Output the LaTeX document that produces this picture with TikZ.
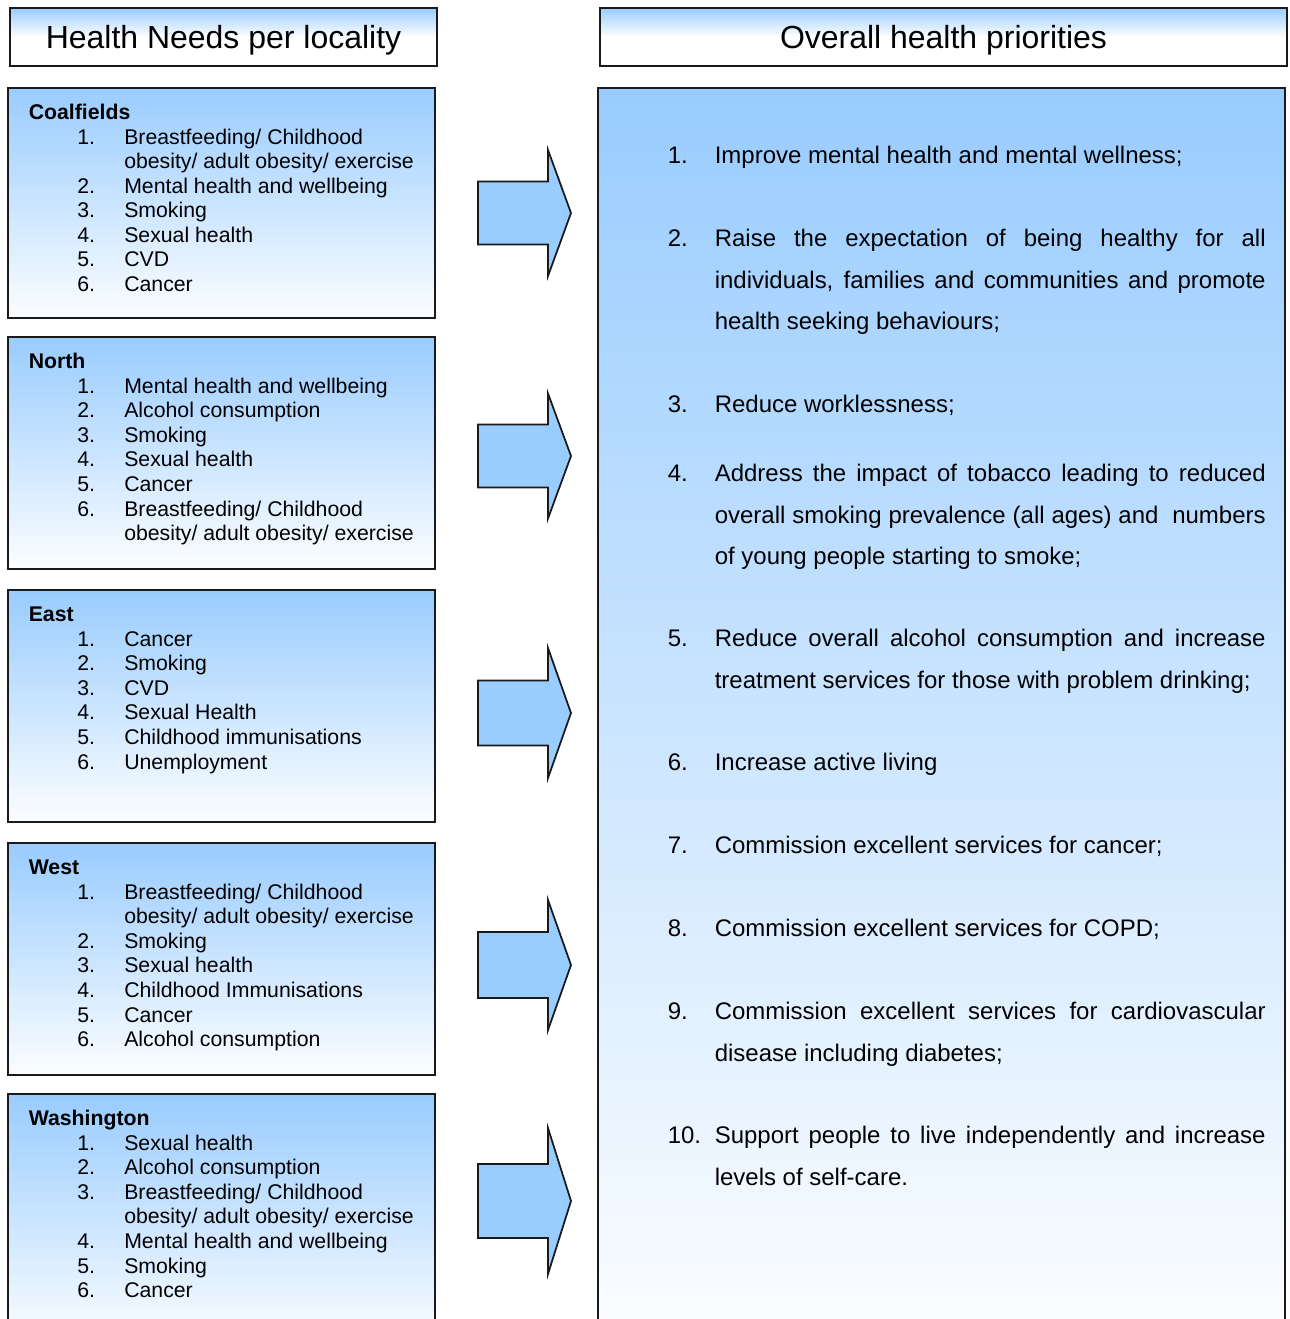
\documentclass[tikz,border=0pt]{standalone}
\usepackage{fontspec}
\setmainfont{Liberation Sans}
\definecolor{cblue}{HTML}{99CCFF}
\definecolor{cline}{HTML}{1A1A1A}
\newcommand\needlist[2]{\begin{tabular}{@{\hspace{0.97cm}}p{0.94cm}@{}l@{}}\multicolumn{2}{@{}l}{\textbf{#1}}\\#2\end{tabular}}
\newcommand\prionum[1]{\noindent\llap{\makebox[0.94cm][l]{#1}}}
\tikzset{
  every picture/.style={x=0.02cm, y=-0.02cm, line width=0.9pt},
  headbox/.style={draw=cline, top color=cblue, bottom color=white, middle color=white},
  heading/.style={font=\fontsize{18.2}{21}\selectfont, yshift=-1.6pt},
  locbox/.style={draw=cline, top color=cblue, bottom color=white!97!cblue},
  loclist/.style={anchor=north west, inner sep=0pt, font=\fontsize{12.1}{14}\selectfont},
  prio/.style={anchor=base west, inner sep=0pt, text width=11.02cm, align=justify, font=\fontsize{13.65}{23.6}\selectfont},
  blockarrow/.style={draw=cline, fill=cblue, line width=1pt, line join=miter},
}
\begin{document}
\begin{tikzpicture}
  \clip (0,0) rectangle (1290,1319);
  % headings
  \draw[headbox] (10,8) rectangle (437,66) node[midway, heading] (hl) {Health Needs per locality};
  \draw[headbox] (600,8) rectangle (1287,66) node[midway, heading] (hr) {Overall health priorities};
  % localities
  \draw[locbox] (8,88) rectangle (435,318);
  \node[loclist] (coal) at (28,101.4) {\needlist{Coalfields}{1. & Breastfeeding/ Childhood\\ & obesity/ adult obesity/ exercise\\
    2. & Mental health and wellbeing\\ 3. & Smoking\\ 4. & Sexual health\\ 5. & CVD\\ 6. & Cancer\\}};
  \draw[locbox] (8,337) rectangle (435,569);
  \node[loclist] (north) at (28,350.4) {\needlist{North}{1. & Mental health and wellbeing\\ 2. & Alcohol consumption\\
    3. & Smoking\\ 4. & Sexual health\\ 5. & Cancer\\ 6. & Breastfeeding/ Childhood\\ & obesity/ adult obesity/ exercise\\}};
  \draw[locbox] (8,590) rectangle (435,822);
  \node[loclist] (east) at (28,603.4) {\needlist{East}{1. & Cancer\\ 2. & Smoking\\ 3. & CVD\\ 4. & Sexual Health\\
    5. & Childhood immunisations\\ 6. & Unemployment\\}};
  \draw[locbox] (8,843) rectangle (435,1075);
  \node[loclist] (west) at (28,856.4) {\needlist{West}{1. & Breastfeeding/ Childhood\\ & obesity/ adult obesity/ exercise\\
    2. & Smoking\\ 3. & Sexual health\\ 4. & Childhood Immunisations\\ 5. & Cancer\\ 6. & Alcohol consumption\\}};
  \draw[locbox] (8,1094) rectangle (435,1345);
  \node[loclist] (wash) at (28,1107.4) {\needlist{Washington}{1. & Sexual health\\ 2. & Alcohol consumption\\
    3. & Breastfeeding/ Childhood\\ & obesity/ adult obesity/ exercise\\ 4. & Mental health and wellbeing\\
    5. & Smoking\\ 6. & Cancer\\}};
  % block arrows: tip y / half head / half body
  \foreach \ty/\hh/\bh in {213/63/31.5, 456/62.5/31.5, 713/65/32.5, 965/65/33, 1201/73/37}
    \draw[blockarrow] (478,{\ty-\bh}) -- (548,{\ty-\bh}) -- (548,{\ty-\hh}) -- (571,\ty)
      -- (548,{\ty+\hh}) -- (548,{\ty+\bh}) -- (478,{\ty+\bh}) -- cycle;
  % priorities
  \draw[locbox] (598,88) rectangle (1285,1345);
  \node[prio] (p1) at (714,163.6) {\prionum{1.}Improve mental health and mental wellness;};
  \node[prio] (p2) at (714,246.6) {\prionum{2.}Raise the expectation of being healthy for all\linebreak
    individuals, families and communities and promote\linebreak health seeking behaviours;};
  \node[prio] (p3) at (714,412.6) {\prionum{3.}Reduce worklessness;};
  \node[prio] (p4) at (714,481.6) {\prionum{4.}Address the impact of tobacco leading to reduced\linebreak
    overall smoking prevalence (all ages) and~ numbers\linebreak of young people starting to smoke;};
  \node[prio] (p5) at (714,646.6) {\prionum{5.}Reduce overall alcohol consumption and increase\linebreak
    treatment services for those with problem drinking;};
  \node[prio] (p6) at (714,770.6) {\prionum{6.}Increase active living};
  \node[prio] (p7) at (714,853.6) {\prionum{7.}Commission excellent services for cancer;};
  \node[prio] (p8) at (714,936.6) {\prionum{8.}Commission excellent services for COPD;};
  \node[prio] (p9) at (714,1019.6) {\prionum{9.}Commission excellent services for cardiovascular\linebreak
    disease including diabetes;};
  \node[prio] (p10) at (714,1143.6) {\prionum{10.}Support people to live independently and increase\linebreak
    levels of self-care.};
\end{tikzpicture}
\end{document}
